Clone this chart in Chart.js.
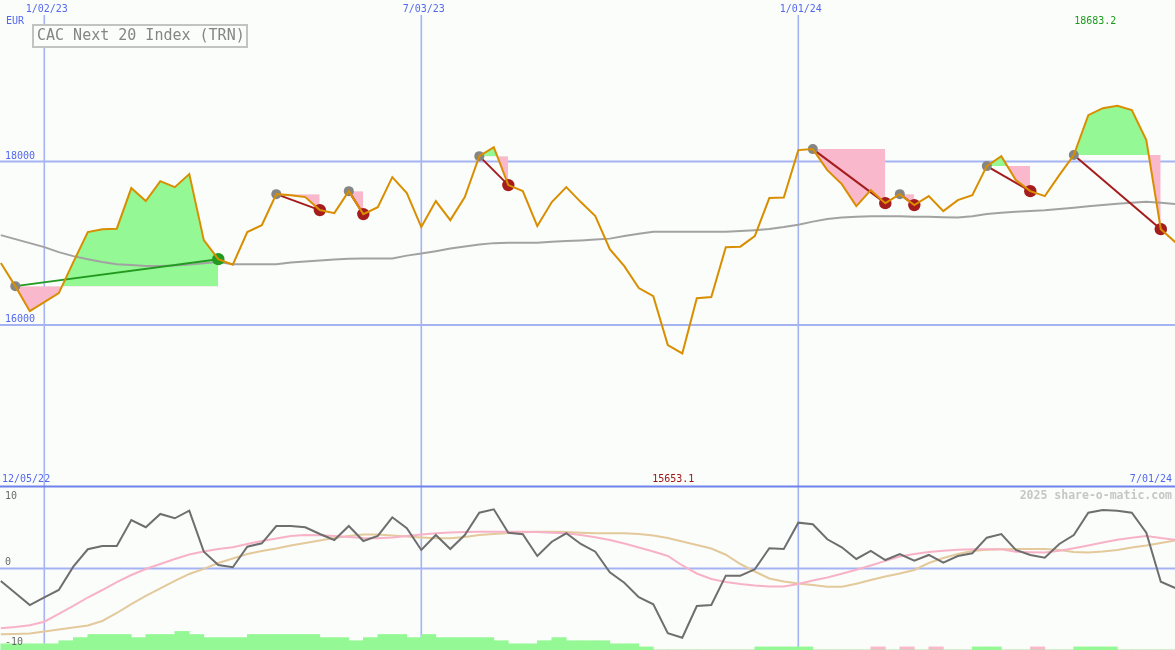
<!DOCTYPE html>
<html><head><meta charset="utf-8">
<script src="https://cdn.jsdelivr.net/npm/chart.js@4.4.1/dist/chart.umd.min.js"></script>
<style>html,body{margin:0;padding:0;background:#fafdfa;overflow:hidden}canvas{display:block}</style>
</head><body>
<canvas id="c" width="1175" height="650"></canvas>
<script>
// ---- data (weekly closes, index 0 = week of 12/12/22) ----
const price = [16760,16477,16171,16281,16392,16771,17138,17174,17180,17676,
  17517,17761,17688,17847,17040,16807,16740,17138,17223,17602,
  17590,17566,17407,17370,17639,17358,17443,17810,17615,17199,
  17517,17284,17566,18067,18177,17713,17639,17211,17505,17688,
  17505,17333,16930,16722,16453,16355,15755,15653.1,16330,16343,
  16954,16960,17089,17554,17560,18141,18153,17896,17725,17456,
  17651,17492,17602,17468,17578,17394,17529,17590,17945,18067,
  17774,17639,17578,17835,18080,18569,18654,18683.2,18630,18263,
  17174,17015];
const priceMA = [17101,17052,17003,16954,16893,16844,16807,16771,16746,16734,
  16722,16722,16728,16740,16758,16771,16746,16746,16746,16746,
  16765,16777,16789,16804,16813,16816,16816,16816,16850,16877,
  16905,16936,16963,16985,17003,17007,17007,17007,17019,17028,
  17036,17046,17058,17089,17119,17141,17141,17141,17141,17141,
  17141,17150,17162,17177,17199,17229,17266,17297,17317,17327,
  17331,17333,17331,17327,17325,17321,17317,17333,17358,17376,
  17388,17397,17404,17419,17437,17453,17468,17486,17498,17508,
  17498,17480];
const oscMain = [-1.53,-3.0,-4.48,-3.53,-2.64,0.22,2.36,2.76,2.76,5.95,
  5.06,6.69,6.16,7.09,2.06,0.43,0.15,2.67,3.09,5.21,
  5.21,5.06,4.23,3.5,5.21,3.37,3.99,6.28,4.93,2.27,
  4.11,2.39,4.11,6.85,7.26,4.39,4.2,1.53,3.29,4.32,
  3.01,2.06,-0.47,-1.74,-3.53,-4.39,-7.95,-8.49,-4.6,-4.48,
  -0.88,-0.88,-0.1,2.48,2.39,5.62,5.42,3.58,2.6,1.17,
  2.15,1.04,1.78,0.96,1.66,0.71,1.53,1.87,3.78,4.23,
  2.27,1.66,1.33,3.01,4.11,6.85,7.18,7.09,6.85,4.39,
  -1.62,-2.39];
const oscFast = [-7.34,-7.18,-6.97,-6.53,-5.58,-4.6,-3.56,-2.64,-1.66,-0.8,
  -0.06,0.55,1.17,1.72,2.09,2.39,2.6,3.0,3.37,3.68,
  3.99,4.11,4.07,3.99,3.87,3.74,3.7,3.8,3.99,4.17,
  4.32,4.42,4.48,4.52,4.52,4.52,4.52,4.48,4.39,4.32,
  4.11,3.83,3.5,3.07,2.58,2.09,1.53,0.37,-0.61,-1.29,
  -1.66,-1.9,-2.09,-2.21,-2.21,-1.9,-1.47,-1.1,-0.64,-0.16,
  0.37,0.94,1.48,1.78,2.02,2.17,2.29,2.36,2.36,2.36,
  2.06,2.0,1.95,2.17,2.49,2.83,3.19,3.52,3.77,3.99,
  3.74,3.53];
const oscSlow = [-8.07,-8.04,-7.98,-7.73,-7.48,-7.24,-6.99,-6.44,-5.46,-4.36,
  -3.37,-2.45,-1.53,-0.67,-0.05,0.67,1.23,1.78,2.15,2.45,
  2.82,3.13,3.44,3.74,3.99,4.17,4.17,4.05,3.93,3.8,
  3.7,3.7,3.87,4.11,4.23,4.36,4.44,4.52,4.52,4.48,
  4.39,4.32,4.32,4.32,4.23,4.05,3.74,3.31,2.88,2.45,
  1.69,0.55,-0.37,-1.23,-1.6,-1.84,-2.02,-2.23,-2.23,-1.87,
  -1.41,-0.98,-0.61,-0.18,0.67,1.29,1.78,2.15,2.31,2.37,
  2.39,2.39,2.39,2.27,2.02,1.96,2.09,2.27,2.58,2.82,
  3.13,3.44];
const barUp = [2,2,2,2,3,4,5,5,5,4,
  5,5,6,5,4,4,4,5,5,5,
  5,5,4,4,3,4,5,5,4,5,
  4,4,4,4,3,2,2,3,4,3,
  3,3,2,2,1,0,0,0,0,0,
  0,0,1,1,1,1,0,0,0,0,
  0,0,0,0,0,0,0,1,1,0,
  0,0,0,0,1,1,1,0,0,0,
  0,0];
const barDown = [0,0,0,0,0,0,0,0,0,0,
  0,0,0,0,0,0,0,0,0,0,
  0,0,0,0,0,0,0,0,0,0,
  0,0,0,0,0,0,0,0,0,0,
  0,0,0,0,0,0,0,0,0,0,
  0,0,0,0,0,0,0,0,0,0,
  1,0,1,0,1,0,0,0,0,0,
  0,1,0,0,0,0,0,0,0,0,
  0,0];
const tradeEntry = [1,19,24,33,56,62,68,74];
const tradeExit  = [15,22,25,35,61,63,71,80];
const dateTickWeeks  = [3,29,55];
const dateTickLabels = ['1/02/23','7/03/23','1/01/24'];
const priceTicks = [16000,18000];
const oscTicks = [10,0,-10];
const rangeLabels = ['12/05/22','7/01/24'];
const chartTitle = 'CAC Next 20 Index (TRN)';
const currency = 'EUR';
const watermark = '2025 share-o-matic.com';

// ---- styles ----
const BG='#fafdfa', BLUE='#5468ee', GRID='#a6b3f3', BORDER='#6f82ec';
const ORANGE='#d98e00', MA='#a2a2a2', GREENF='#94f894', PINKF='#f9b8cc';
const RED='#a51c1c', GREENL='#229a22';
const MONO='"DejaVu Sans Mono", "Liberation Mono", monospace';

const pts = arr => arr.map((v,i)=>({x:i,y:v}));
const ds = [];
tradeEntry.forEach((e,t)=>{
  const d=[]; for(let k=e;k<=tradeExit[t];k++) d.push({x:k,y:price[k]});
  ds.push({type:'line',data:d,yAxisID:'yP',borderColor:'rgba(0,0,0,0)',borderWidth:0,pointRadius:0,
    fill:{target:{value:price[e]},above:GREENF,below:PINKF},order:100});
});
ds.push({type:'bar',data:barUp.map((v,i)=>({x:i+0.5,y:v})),yAxisID:'yB',backgroundColor:GREENF,
  barPercentage:1,categoryPercentage:1,grouped:false,borderWidth:0,order:100});
ds.push({type:'bar',data:barDown.map((v,i)=>({x:i+0.5,y:v})),yAxisID:'yB',backgroundColor:PINKF,
  barPercentage:1,categoryPercentage:1,grouped:false,borderWidth:0,order:100});
ds.push({type:'line',data:pts(priceMA),yAxisID:'yP',borderColor:MA,borderWidth:2,pointRadius:0,fill:false,order:50});
ds.push({type:'line',data:pts(oscSlow),yAxisID:'yO',borderColor:'#e3c99b',borderWidth:2,pointRadius:0,fill:false,order:52});
ds.push({type:'line',data:pts(oscFast),yAxisID:'yO',borderColor:'#f8b2c8',borderWidth:2,pointRadius:0,fill:false,order:51});
ds.push({type:'line',data:pts(oscMain),yAxisID:'yO',borderColor:'#6e6e6e',borderWidth:2,pointRadius:0,fill:false,order:49});
tradeEntry.forEach((e,t)=>{
  const x=tradeExit[t], win=price[x]>price[e];
  ds.push({type:'line',data:[{x:e,y:price[e]},{x:x,y:price[x]}],yAxisID:'yP',borderColor:win?GREENL:RED,
    borderWidth:2,pointRadius:0,fill:false,order:40});
});
ds.push({type:'line',data:tradeEntry.map(k=>({x:k,y:price[k]})),yAxisID:'yP',showLine:false,
  pointRadius:5,pointBackgroundColor:'#858585',pointBorderWidth:0,order:30});
ds.push({type:'line',data:tradeExit.map((k,t)=>({x:k,y:price[k]})),yAxisID:'yP',showLine:false,
  pointRadius:6.2,pointBorderWidth:0,
  pointBackgroundColor:tradeExit.map((k,t)=>price[k]>price[tradeEntry[t]]?GREENL:RED),order:30});
ds.push({type:'line',data:pts(price),yAxisID:'yP',borderColor:ORANGE,borderWidth:2,pointRadius:0,fill:false,order:10});

const bgPlugin={id:'bg',beforeDraw(c){const g=c.ctx;g.save();g.fillStyle=BG;g.fillRect(0,0,c.width,c.height);g.restore();}};
const gridPlugin={id:'grid',beforeDatasetsDraw(c){
  const g=c.ctx,{x,yP,yO}=c.scales,W=c.width,H=c.height;
  const ln=(x1,y1,x2,y2)=>{g.beginPath();g.moveTo(x1,y1);g.lineTo(x2,y2);g.stroke();};
  g.save();g.strokeStyle=GRID;g.lineWidth=1.6;
  dateTickWeeks.forEach(w=>{const px=x.getPixelForValue(w);ln(px,15,px,H);});
  g.lineWidth=2;
  priceTicks.forEach(v=>{const py=yP.getPixelForValue(v);ln(0,py,W,py);});
  const y0=yO.getPixelForValue(0);ln(0,y0,W,y0);
  g.strokeStyle=BORDER;const yt=yO.getPixelForValue(oscTicks[0])-0.5;ln(0,yt,W,yt);
  g.restore();
}};
const textPlugin={id:'texts',afterDraw(c){
  const g=c.ctx,{x,yP,yO}=c.scales;
  g.save();g.textBaseline='middle';g.font='10px '+MONO;g.fillStyle=BLUE;
  g.textAlign='center';
  dateTickWeeks.forEach((w,i)=>g.fillText(dateTickLabels[i],x.getPixelForValue(w)+2.5,9.5));
  g.textAlign='left';
  g.fillText(currency,6,21.5);
  priceTicks.forEach(v=>g.fillText(String(v),5,yP.getPixelForValue(v)-5.5));
  g.fillText(rangeLabels[0],2,479.5);
  g.textAlign='right';g.fillText(rangeLabels[1],1172,479.5);
  let iMax=0,iMin=0;price.forEach((v,i)=>{if(v>price[iMax])iMax=i;if(v<price[iMin])iMin=i;});
  g.fillStyle='#1c9c1c';g.fillText(price[iMax].toFixed(1),x.getPixelForValue(iMax)-1,21.5);
  g.fillStyle='#a01414';g.textAlign='center';g.fillText(price[iMin].toFixed(1),x.getPixelForValue(iMin)-9,479.5);
  g.fillStyle='#6a6a6a';g.textAlign='left';
  g.fillText(String(oscTicks[0]),5,yO.getPixelForValue(oscTicks[0])+9);
  g.fillText(String(oscTicks[1]),5,yO.getPixelForValue(oscTicks[1])-6.5);
  g.fillText(String(oscTicks[2]),5,yO.getPixelForValue(oscTicks[2])-8);
  g.font='bold 11.5px '+MONO;g.fillStyle='#c6c6c6';g.textAlign='right';
  g.fillText(watermark,1172,496.5);
  // title box
  g.fillStyle=BG;g.fillRect(33,25,214,22);
  g.strokeStyle='#c3c3c3';g.lineWidth=2;g.strokeRect(33,25,214,22);
  g.font='15px '+MONO;g.fillStyle='#858585';g.textAlign='left';
  g.fillText(chartTitle,37,36.5);
  g.restore();
}};

new Chart(document.getElementById('c'),{
  type:'line',
  data:{datasets:ds},
  options:{responsive:false,animation:false,events:[],
    layout:{padding:0,autoPadding:false},
    elements:{line:{tension:0}},
    plugins:{legend:{display:false},tooltip:{enabled:false},title:{display:false}},
    scales:{
      x:{type:'linear',min:-0.0552,max:80.979,display:false,offset:false},
      yP:{type:'linear',min:12026,max:19977,display:false},
      yO:{type:'linear',min:-10,max:69.75,display:false},
      yB:{type:'linear',min:0,max:209.7,display:false}
    }
  },
  plugins:[bgPlugin,gridPlugin,textPlugin]
});
</script>
</body></html>
